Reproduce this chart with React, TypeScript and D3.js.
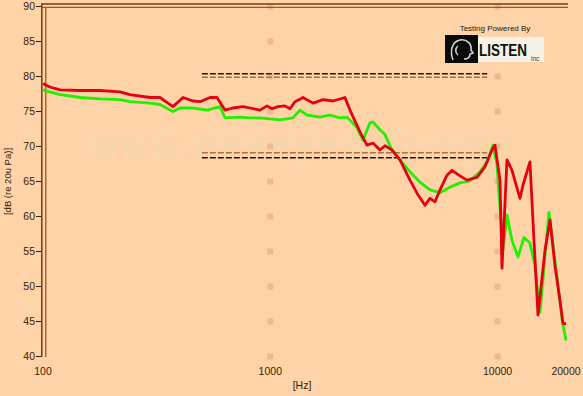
import React from "react";
import * as d3 from "d3";

// ---- data ----
const redFreq = [100, 107, 119, 146, 178, 218, 241, 296, 327, 373, 413, 457, 491, 543, 583, 632, 685, 759, 814, 901, 967, 1017, 1081, 1160, 1221, 1284, 1393, 1541, 1706, 1887, 2131, 2242, 2480, 2663, 2830, 3038, 3195, 3431, 3720, 4117, 4464, 4794, 5042, 5304, 5580, 5991, 6302, 6832, 7335, 8116, 8800, 9449, 9741, 10247, 10457, 11000, 11570, 12550, 12940, 13880, 14460, 15060, 16170, 17010, 17880, 18820, 19400, 20000];
const redDb = [79.0, 78.5, 78.1, 78.0, 78.0, 77.8, 77.4, 77.0, 77.0, 75.7, 77.0, 76.5, 76.4, 77.0, 77.0, 75.2, 75.5, 75.7, 75.5, 75.2, 75.8, 75.4, 75.7, 75.8, 75.4, 76.4, 77.0, 76.2, 76.7, 76.5, 77.0, 75.2, 72.1, 70.2, 70.5, 69.5, 70.1, 69.5, 68.1, 65.2, 63.1, 61.6, 62.6, 62.1, 63.8, 65.9, 66.6, 65.8, 65.2, 65.6, 67.1, 69.5, 70.2, 65.2, 52.6, 68.1, 66.6, 62.6, 64.5, 67.8, 56.6, 45.9, 55.2, 59.5, 53.0, 48.0, 44.7, 44.7];

const greenFreq = [100, 107, 119, 146, 178, 218, 241, 296, 327, 373, 401, 457, 527, 601, 632, 736, 814, 901, 1103, 1259, 1351, 1450, 1654, 1831, 2026, 2175, 2407, 2557, 2745, 2830, 3038, 3195, 3431, 3720, 4117, 4556, 5042, 5580, 6175, 6832, 7560, 8366, 8982, 9546, 9940, 10563, 11000, 11570, 12300, 13070, 13880, 14600, 15370, 16830, 17880, 19200, 20000];
const greenDb = [78.1, 77.8, 77.4, 77.0, 76.8, 76.7, 76.4, 76.2, 76.0, 75.0, 75.5, 75.5, 75.2, 75.7, 74.1, 74.2, 74.1, 74.1, 73.8, 74.1, 75.2, 74.5, 74.2, 74.5, 74.1, 74.2, 72.7, 70.9, 73.4, 73.5, 72.4, 71.7, 69.5, 68.1, 66.4, 64.9, 63.8, 63.4, 64.2, 64.8, 65.1, 66.4, 67.8, 70.2, 67.4, 55.2, 60.2, 56.6, 54.2, 57.0, 56.2, 53.0, 46.3, 60.6, 53.8, 45.4, 42.3];

const refRange = [500, 9000];
const refUpperDb = [80.4, 79.9];
const refLowerDb = [69.1, 68.4];

const xTicks = [100, 1000, 10000, 20000];
const xTickLabels = ["100", "1000", "10000", "20000"];
const yTicks = [40, 45, 50, 55, 60, 65, 70, 75, 80, 85, 90];
const gridFreqs = [1000, 10000];

const W = 583;
const H = 396;

export default function App() {
  const x = d3.scaleLog().domain([100, 20000]).range([43, 566]);
  const y = d3.scaleLinear().domain([40, 90]).range([356.5, 6.5]);

  const line = d3
    .line<[number, number]>()
    .x((d) => x(d[0]))
    .y((d) => y(d[1]));

  const red = line(redFreq.map((f, i) => [f, redDb[i]]) as [number, number][]) || "";
  const green = line(greenFreq.map((f, i) => [f, greenDb[i]]) as [number, number][]) || "";

  const brown = "#7a3a12";
  const labelColor = "#3a1c08";
  const font = "Liberation Sans, Arial, sans-serif";

  return (
    <svg
      width={W}
      height={H}
      style={{ position: "absolute", left: 0, top: 0, display: "block" }}
      fontFamily={font}
    >
      <rect x={0} y={0} width={W} height={H} fill="#fdd3a7" />

      {/* faint watermark */}
      <text
        x={(x(100) + x(20000)) / 2}
        y={y(70) + 10}
        textAnchor="middle"
        fontSize={30}
        letterSpacing={8}
        fill="#e0e6b0"
        opacity={0.35}
      >
        www.headphone.com
      </text>

      {/* grid dots */}
      {gridFreqs.map((f) =>
        yTicks.map((t) => (
          <rect
            key={`g${f}-${t}`}
            x={x(f) - 3}
            y={y(t) - 3}
            width={6}
            height={6}
            fill="#eeb98e"
          />
        ))
      )}

      {/* frame: double lines top and left */}
      <line x1={41} x2={568} y1={4} y2={4} stroke={brown} strokeWidth={1.5} />
      <line x1={41} x2={568} y1={7.3} y2={7.3} stroke="#9a5a2a" strokeWidth={1.3} />
      <line x1={41.8} x2={41.8} y1={4} y2={357} stroke={brown} strokeWidth={1.5} />
      <line x1={45.8} x2={45.8} y1={7} y2={357} stroke="#9a5a2a" strokeWidth={1.3} />

      {/* y ticks and labels */}
      {yTicks.map((t) => (
        <g key={`y${t}`}>
          <line x1={36} x2={41} y1={y(t)} y2={y(t)} stroke={labelColor} strokeWidth={1} />
          <text x={35} y={y(t) + 3.8} textAnchor="end" fontSize={10.5} fill={labelColor}>
            {t}
          </text>
        </g>
      ))}

      {/* x labels */}
      {xTicks.map((f, i) => (
        <text key={`x${f}`} x={x(f)} y={375} textAnchor="middle" fontSize={10.5} fill={labelColor}>
          {xTickLabels[i]}
        </text>
      ))}
      <text x={302} y={389} textAnchor="middle" fontSize={10.5} fill={labelColor}>
        [Hz]
      </text>
      <text
        transform={`translate(11, ${y(65)}) rotate(-90)`}
        textAnchor="middle"
        fontSize={9.5}
        fill={labelColor}
      >
        [dB (re 20u Pa)]
      </text>

      {/* reference dashed lines */}
      {[refUpperDb, refLowerDb].map((pair, k) =>
        pair.map((db, j) => (
          <line
            key={`r${k}-${j}`}
            x1={x(refRange[0])}
            x2={x(refRange[1])}
            y1={y(db)}
            y2={y(db)}
            stroke={(k === 0 ? j === 0 : j === 1) ? "#2a1606" : "#b07040"}
            strokeWidth={1.6}
            strokeDasharray="6,2"
          />
        ))
      )}

      {/* curves */}
      <path d={green} fill="none" stroke="#22f000" strokeWidth={2.8} strokeLinejoin="round" />
      <path d={red} fill="none" stroke="#e50012" strokeWidth={2.8} strokeLinejoin="round" />

      {/* logo */}
      <text x={495} y={31} textAnchor="middle" fontSize={8} fill="#202020">
        Testing Powered By
      </text>
      <rect x={445} y={35} width={33} height={28} fill="#0a0a0a" />
      <rect x={478} y={37} width={66} height={25} fill="#f6f1e6" />
      <path
        d="M453,60 C450,52 451,42 460,40 C467,39 472,44 471,50 L473,53 L470,54 C470,57 468,59 464,59"
        fill="none"
        stroke="#d8d8d8"
        strokeWidth={1.5}
      />
      <path d="M458,46 C455,48 455,53 458,55" fill="none" stroke="#d8d8d8" strokeWidth={1.5} />
      <text
        x={479}
        y={56}
        fontSize={14}
        fontWeight="bold"
        fill="#111"
        textLength={48}
        lengthAdjust="spacingAndGlyphs"
        transform="translate(479,56) scale(1,1.2) translate(-479,-56)"
      >
        LISTEN
      </text>
      <text x={531} y={61} fontSize={6.5} fill="#333">
        inc
      </text>
    </svg>
  );
}
